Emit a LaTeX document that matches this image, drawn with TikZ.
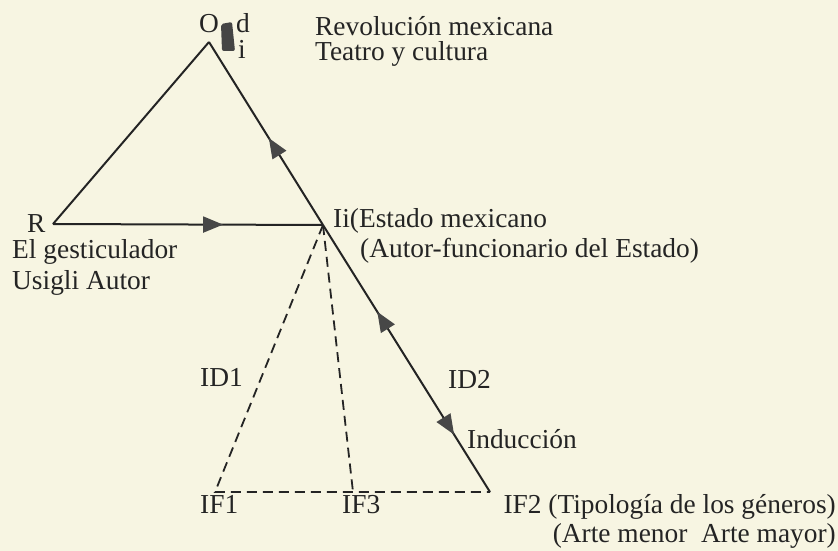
\documentclass[tikz,border=0pt]{standalone}
\usepackage{fontspec}
\setmainfont{Liberation Serif}
\usetikzlibrary{decorations.markings,arrows.meta}
\definecolor{paper}{HTML}{F7F5E2}
\definecolor{ink}{HTML}{242424}
\definecolor{tipc}{HTML}{474747}
\begin{document}
\begin{tikzpicture}[x=1bp,y=-1bp,
  lbl/.style={anchor=base west,inner sep=0pt,font=\fontsize{27.5}{31}\selectfont,text=ink},
  lble/.style={lbl,anchor=base east},
  edge/.style={draw=ink,line width=2bp},
  dsh/.style={draw=ink,line width=1.8bp,dash pattern=on 10bp off 6bp},
  fwdat/.style={postaction={decorate,decoration={markings,mark=at position #1 with {\arrow[tipc]{Triangle[length=20bp,width=16bp]}}}}},
  ]
\fill[paper] (0,0) rectangle (838,551);
\useasboundingbox (0,0) rectangle (838,551);
% vertices
\coordinate (O) at (209,42);
\coordinate (R) at (53,224);
\coordinate (Ii) at (323,225);
\coordinate (IF1) at (215,492);
\coordinate (IF3) at (353,492);
\coordinate (IF2) at (490,492);
% dashed lines
\draw[dsh] (Ii) -- (IF1) -- (IF3) -- (IF2);
\draw[dsh] (Ii) -- (IF3);
% solid lines
\draw[edge] (R) -- (O);
\draw[edge,fwdat=0.63] (R) -- (Ii);
\draw[edge,fwdat=0.475] (Ii) -- (O);
\draw[edge,postaction={decorate,decoration={markings,
   mark=at position 0.325 with {\arrowreversed[tipc]{Triangle[length=20bp,width=16bp]}},
   mark=at position 0.785 with {\arrow[tipc]{Triangle[length=20bp,width=16bp]}}}}] (Ii) -- (IF2);
% blot near O
\fill[ink!85,rounded corners=2bp] (221,24) -- (232,22) -- (235,51) -- (222,51) -- cycle;
% labels
\node[lbl] (tO) at (199,33) {O};
\node[lbl] (td) at (236,33) {d};
\node[lbl] (ti) at (238,59) {i};
\node[lbl] (rev) at (315,36) {Revolución mexicana};
\node[lbl] (tea) at (315,61) {Teatro y cultura};
\node[lbl] (tR) at (27,233) {R};
\node[lbl] (ges) at (12,259) {El gesticulador};
\node[lbl] (usi) at (12,290) {Usigli Autor};
\node[lbl] (est) at (333,228) {Ii(Estado mexicano};
\node[lbl] (aut) at (360,258) {(Autor-funcionario del Estado)};
\node[lbl] (id1) at (200,386) {ID1};
\node[lbl] (id2) at (448,388) {ID2};
\node[lbl] (ind) at (467,448) {Inducción};
\node[lbl] (if1) at (200,513) {IF1};
\node[lbl] (if3) at (342,513) {IF3};
\node[lble] (if2) at (836,513) {IF2 (Tipología de los géneros)};
\node[lble] (arte) at (836,542) {(Arte menor\ \ Arte mayor)};
\end{tikzpicture}
\end{document}
